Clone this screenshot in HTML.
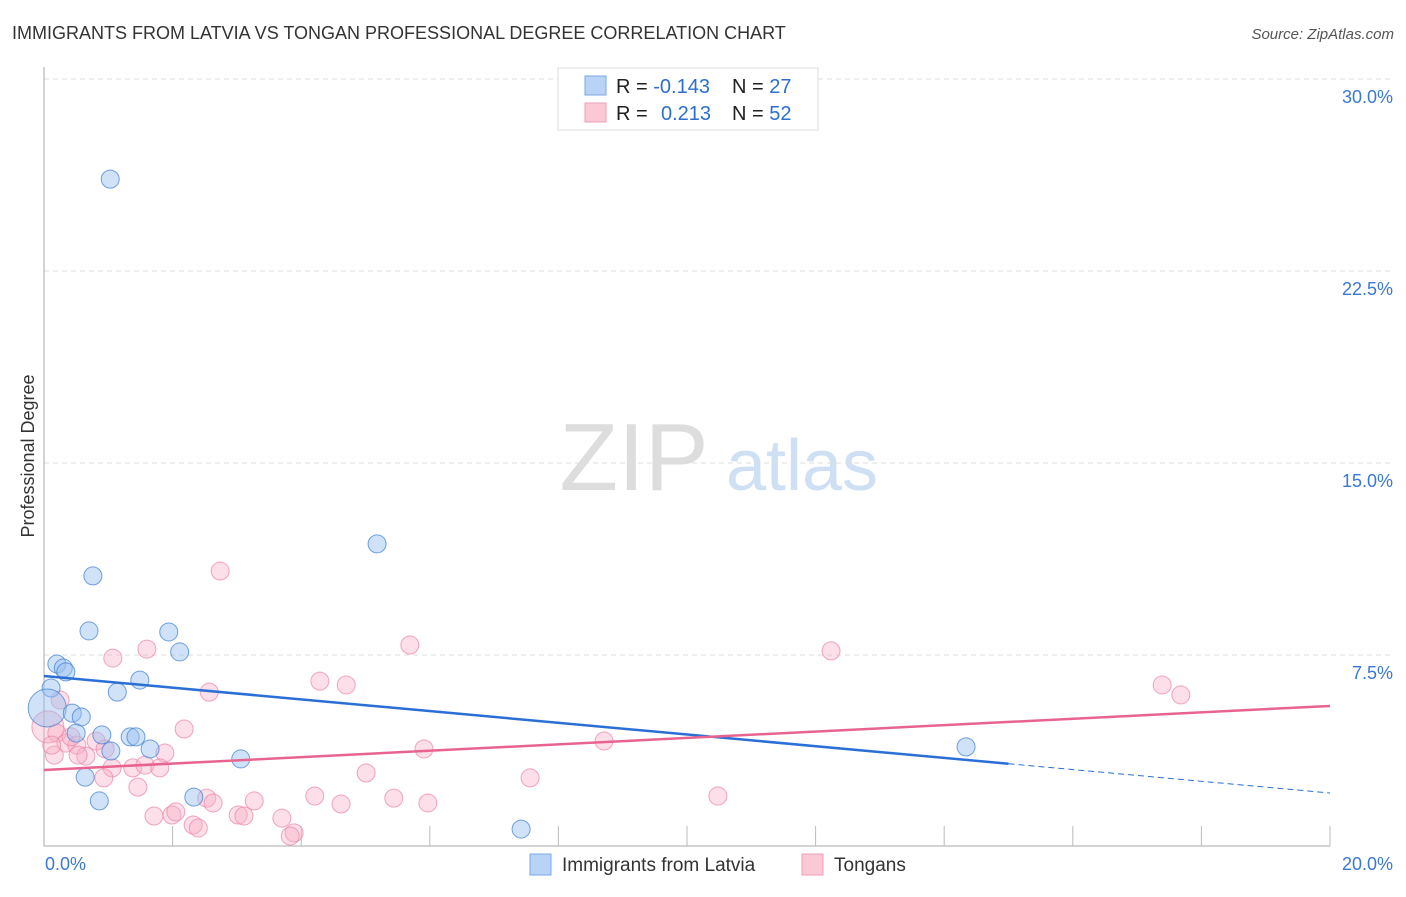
<!DOCTYPE html>
<html><head><meta charset="utf-8"><style>
body{margin:0;background:#fff;font-family:"Liberation Sans",sans-serif}
svg text{font-family:"Liberation Sans",sans-serif}
</style></head><body>
<svg width="1406" height="892" xmlns="http://www.w3.org/2000/svg">
<text x="12" y="39" font-size="18" fill="#333">IMMIGRANTS FROM LATVIA VS TONGAN PROFESSIONAL DEGREE CORRELATION CHART</text>
<text x="1394" y="39" font-size="15" fill="#555" font-style="italic" text-anchor="end">Source: ZipAtlas.com</text>
<g>
<text x="634" y="490" font-size="96" fill="#ddd" font-family="Liberation Serif" text-anchor="middle">ZIP</text>
<text x="802" y="490" font-size="72" fill="#cfe0f5" text-anchor="middle">atlas</text>
</g>
<g id="grid"></g>
<g id="axes"></g>
<g id="pts"></g>
<g id="trend"></g>
<text transform="translate(34,456) rotate(-90)" font-size="18" fill="#333" text-anchor="middle">Professional Degree</text>
<g>
<rect x="558" y="68" width="260" height="62" fill="#fff" stroke="#ddd"/>
<rect x="585" y="76" width="21" height="19" fill="#b8d3f5" stroke="#7aa8e6"/>
<rect x="585" y="103" width="21" height="19" fill="#fbc8d6" stroke="#ef9fb7"/>
<text x="616" y="93" font-size="20" fill="#222">R = <tspan fill="#2d6fd1">-0.143</tspan><tspan x="732">N = </tspan><tspan fill="#2d6fd1">27</tspan></text>
<text x="616" y="120" font-size="20" fill="#222">R = <tspan x="661" fill="#2d6fd1">0.213</tspan><tspan x="732">N = </tspan><tspan fill="#2d6fd1">52</tspan></text>
</g>
<g>
<rect x="530" y="854" width="21" height="21" fill="#b8d3f5" stroke="#7aa8e6"/>
<text x="562" y="871" font-size="19" fill="#333">Immigrants from Latvia</text>
<rect x="802" y="854" width="21" height="21" fill="#fbc8d6" stroke="#ef9fb7"/>
<text x="834" y="871" font-size="19" fill="#333">Tongans</text>
</g>
</svg>
<script>
const yTicks=[7.5,15,22.5,30];
const yTickLabels=["7.5%","15.0%","22.5%","30.0%"];
const xTickLabels=["0.0%","20.0%"];
const blueX=[1.03,5.18,0.76,0.70,1.94,2.11,0.20,0.30,0.34,1.49,0.11,1.14,0.05,0.44,0.58,0.50,0.90,1.34,1.43,1.04,1.65,3.06,0.64,0.86,2.33,7.42,14.34];
const blueY=[26.09,11.84,10.59,8.44,8.40,7.62,7.15,6.99,6.84,6.52,6.21,6.05,5.43,5.23,5.08,4.45,4.38,4.30,4.30,3.75,3.83,3.44,2.73,1.80,1.95,0.70,3.91];
const pinkX=[2.74,5.69,12.24,17.39,17.68,1.07,1.60,2.57,4.29,4.70,0.06,0.20,0.34,0.51,0.81,0.65,0.95,1.06,1.38,2.18,1.88,1.57,1.80,0.93,1.46,0.16,0.53,5.91,8.71,7.56,5.01,1.71,1.99,2.05,2.53,2.63,3.27,3.02,3.11,2.32,2.40,3.70,3.89,3.83,4.21,4.62,5.44,5.97,10.48,0.25,0.42,0.12];
const pinkY=[10.78,7.89,7.66,6.33,5.94,7.38,7.73,6.05,6.48,6.33,4.69,4.45,4.06,3.98,4.14,3.55,3.83,3.09,3.09,4.61,3.67,3.20,3.09,2.70,2.34,3.59,3.59,3.83,4.14,2.70,2.89,1.21,1.25,1.37,1.91,1.72,1.80,1.25,1.21,0.86,0.74,1.13,0.55,0.43,1.99,1.68,1.91,1.72,1.99,5.74,4.30,3.98];
const blueTrend=[6.68,2.11]; const blueSolidEnd=15;
const pinkTrend=[3.01,5.51];
const NS="http://www.w3.org/2000/svg";
const X=v=>44+v/20*1286, Y=v=>847-v/7.5*192;
function mk(p,t,a){const e=document.createElementNS(NS,t);for(const k in a)e.setAttribute(k,a[k]);document.getElementById(p).appendChild(e);return e;}
yTicks.forEach((t,i)=>{
 const g=mk('grid','line',{x1:44,x2:1393,y1:Y(t),y2:Y(t),stroke:'#ddd','stroke-dasharray':'5,4'});
 
 
 const l=mk('grid','text',{x:1393,y:Y(t)+24,'font-size':18,fill:'#3a78d8','text-anchor':'end'});
 l.textContent=yTickLabels[i];
 
 
});
const ax=mk('axes','path',{d:'M44 67V846H1330',stroke:'#aaa',fill:'none'});


for(let i=1;i<=10;i++){const t=mk('axes','line',{x1:X(i*2),x2:X(i*2),y1:826,y2:846,stroke:'#bbb'});
 
 }
[[0,'start',45],[20,'end',1393]].forEach((d,i)=>{const t=mk('axes','text',{x:d[2],y:870,'font-size':18,fill:'#3a78d8','text-anchor':d[1]});t.textContent=xTickLabels[i];
 
 });
pinkX.forEach((v,i)=>{const c=mk('pts','circle',{cx:X(v),cy:Y(pinkY[i]),r:(i==10?16:9),fill:'rgba(248,175,198,0.4)',stroke:'rgba(235,130,165,0.7)'});
 
 });
blueX.forEach((v,i)=>{const c=mk('pts','circle',{cx:X(v),cy:Y(blueY[i]),r:(i==12?19:9),fill:'rgba(150,190,240,0.45)',stroke:'rgba(70,130,215,0.75)'});
 
 });
const bm=blueTrend[0]+(blueTrend[1]-blueTrend[0])*blueSolidEnd/20;
let l=mk('trend','line',{x1:X(0),y1:Y(blueTrend[0]),x2:X(blueSolidEnd),y2:Y(bm),stroke:'#2a6fd6','stroke-width':2.5});


l=mk('trend','line',{x1:X(blueSolidEnd),y1:Y(bm),x2:X(20),y2:Y(blueTrend[1]),stroke:'#2a6fd6','stroke-width':1,'stroke-dasharray':'6,4'});


l=mk('trend','line',{x1:X(0),y1:Y(pinkTrend[0]),x2:X(20),y2:Y(pinkTrend[1]),stroke:'#e8648f','stroke-width':2.5});


</script>
</body></html>
